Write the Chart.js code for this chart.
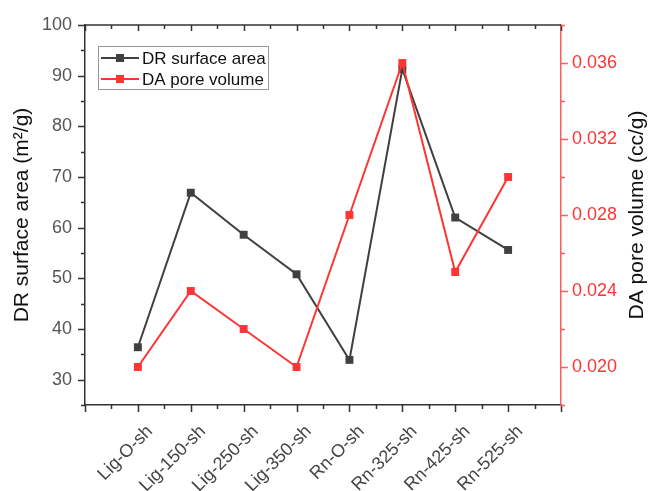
<!DOCTYPE html>
<html>
<head>
<meta charset="utf-8">
<script src="https://cdn.jsdelivr.net/npm/chart.js@4.4.0/dist/chart.umd.min.js"></script>
<style>
  html, body { margin: 0; padding: 0; background: #fff; }
  #wrap { width: 648px; height: 491px; }
</style>
</head>
<body>
<div id="wrap"><canvas id="grafico"></canvas></div>
<script>
// categorias do eixo x
const categorias = ['Lig-O-sh', 'Lig-150-sh', 'Lig-250-sh', 'Lig-350-sh', 'Rn-O-sh', 'Rn-325-sh', 'Rn-425-sh', 'Rn-525-sh'];

// valores
const areaDR = [36.4, 66.9, 58.6, 50.8, 33.9, 91.3, 62.0, 55.6];
const volumeDA = [0.020, 0.024, 0.022, 0.020, 0.028, 0.036, 0.025, 0.030];

// ticks com texto
const ticksEsquerda = [30, 40, 50, 60, 70, 80, 90, 100];
const ticksDireita = [0.020, 0.024, 0.028, 0.032, 0.036];

const corPreta = '#404040';
const corVermelha = '#ff3434';
const fonte = "'Liberation Sans', Arial, sans-serif";

function pontos(valores) {
  return valores.map((v, i) => ({ x: i + 1, y: v }));
}

// desenha ticks maiores/menores, eixo de cima, legenda e titulos
const extras = {
  id: 'extras',
  afterDraw(chart) {
    const ctx = chart.ctx;
    const area = chart.chartArea;
    const sx = chart.scales.x, sy = chart.scales.y, sy1 = chart.scales.y1;
    ctx.save();
    ctx.lineWidth = 1.5;

    // eixo de cima
    ctx.strokeStyle = '#333';
    ctx.beginPath();
    ctx.moveTo(area.left, area.top);
    ctx.lineTo(area.right, area.top);
    ctx.stroke();

    // ticks eixo x (baixo para fora, cima para dentro)
    ctx.beginPath();
    for (let v = 0; v <= 9; v += 0.5) {
      const px = Math.round(sx.getPixelForValue(v)) + 0.5;
      const maior = Number.isInteger(v);
      ctx.moveTo(px, area.bottom);
      ctx.lineTo(px, area.bottom + (maior ? 7 : 4));
      ctx.moveTo(px, area.top);
      ctx.lineTo(px, area.top + (maior ? 6 : 4));
    }
    // ticks eixo esquerdo
    for (let v = 25; v <= 100; v += 5) {
      const py = Math.round(sy.getPixelForValue(v)) + 0.5;
      const maior = v % 10 === 0;
      ctx.moveTo(area.left, py);
      ctx.lineTo(area.left - (maior ? 7 : 4), py);
    }
    ctx.stroke();

    // ticks eixo direito
    ctx.strokeStyle = '#ff5c5c';
    ctx.beginPath();
    for (let i = 0; i <= 10; i++) {
      const v = 0.018 + i * 0.002;
      const py = Math.round(sy1.getPixelForValue(v)) + 0.5;
      const maior = i % 2 === 1;
      ctx.moveTo(area.right, py);
      ctx.lineTo(area.right + (maior ? 7 : 4), py);
    }
    ctx.stroke();

    // legenda
    const lx = 98.5, ly = 46.5, lw = 170, lh = 43;
    ctx.strokeStyle = '#999';
    ctx.lineWidth = 1;
    ctx.strokeRect(lx, ly, lw, lh);
    const itens = [
      { texto: 'DR surface area', cor: corPreta, y: 58 },
      { texto: 'DA pore volume', cor: corVermelha, y: 79 }
    ];
    ctx.font = '17px ' + fonte;
    ctx.textBaseline = 'middle';
    ctx.textAlign = 'left';
    itens.forEach(item => {
      ctx.strokeStyle = item.cor;
      ctx.lineWidth = 2;
      ctx.beginPath();
      ctx.moveTo(101, item.y);
      ctx.lineTo(139, item.y);
      ctx.stroke();
      ctx.fillStyle = item.cor;
      ctx.fillRect(116, item.y - 4, 8, 8);
      ctx.fillStyle = '#111';
      ctx.fillText(item.texto, 142, item.y + 1);
    });

    // titulos dos eixos
    ctx.font = '21px ' + fonte;
    ctx.textAlign = 'center';
    ctx.fillStyle = '#111';
    ctx.save();
    ctx.translate(22, (area.top + area.bottom) / 2);
    ctx.rotate(-Math.PI / 2);
    ctx.fillText('DR surface area (m²/g)', 0, 0);
    ctx.restore();
    ctx.save();
    ctx.translate(637, (area.top + area.bottom) / 2);
    ctx.rotate(-Math.PI / 2);
    ctx.fillText('DA pore volume (cc/g)', 0, 0);
    ctx.restore();

    ctx.restore();
  }
};

const ctx = document.getElementById('grafico');

new Chart(ctx, {
  type: 'line',
  data: {
    datasets: [
      {
        label: 'DR surface area',
        data: pontos(areaDR),
        yAxisID: 'y',
        borderColor: corPreta,
        backgroundColor: corPreta,
        borderWidth: 2,
        pointStyle: 'rect',
        pointRadius: 5.6,
        pointBorderWidth: 0,
        tension: 0,
        order: 1
      },
      {
        label: 'DA pore volume',
        data: pontos(volumeDA),
        yAxisID: 'y1',
        borderColor: corVermelha,
        backgroundColor: corVermelha,
        borderWidth: 2,
        pointStyle: 'rect',
        pointRadius: 5.6,
        pointBorderWidth: 0,
        tension: 0,
        order: 0
      }
    ]
  },
  options: {
    responsive: true,
    maintainAspectRatio: false,
    animation: false,
    layout: { padding: { top: 25, left: 0, right: 0, bottom: 0 } },
    plugins: {
      legend: { display: false },
      tooltip: { enabled: false }
    },
    scales: {
      x: {
        type: 'linear',
        position: 'bottom',
        min: 0,
        max: 9,
        afterBuildTicks: (scale) => { scale.ticks = categorias.map((c, i) => ({ value: i + 1 })); },
        afterFit: (scale) => { scale.height = 86; },
        grid: { display: false },
        border: { display: true, color: '#333', width: 1.5 },
        ticks: {
          autoSkip: false,
          maxRotation: 45,
          minRotation: 45,
          padding: 8,
          labelOffset: 12,
          color: '#444',
          font: { family: fonte, size: 18 },
          callback: (v) => categorias[v - 1]
        }
      },
      y: {
        type: 'linear',
        position: 'left',
        min: 25,
        max: 100,
        afterBuildTicks: (scale) => { scale.ticks = ticksEsquerda.map(v => ({ value: v })); },
        afterFit: (scale) => { scale.width = 85; },
        grid: { display: false },
        border: { display: true, color: '#333', width: 1.5 },
        ticks: {
          padding: 5,
          color: '#555',
          font: { family: fonte, size: 18 }
        }
      },
      y1: {
        type: 'linear',
        position: 'right',
        min: 0.018,
        max: 0.038,
        afterBuildTicks: (scale) => { scale.ticks = ticksDireita.map(v => ({ value: v })); },
        afterFit: (scale) => { scale.width = 87; },
        grid: { display: false },
        border: { display: true, color: '#ff5c5c', width: 1.5 },
        ticks: {
          padding: 3,
          color: corVermelha,
          font: { family: fonte, size: 18 },
          callback: (v) => v.toFixed(3)
        }
      }
    }
  },
  plugins: [extras]
});
</script>
</body>
</html>
